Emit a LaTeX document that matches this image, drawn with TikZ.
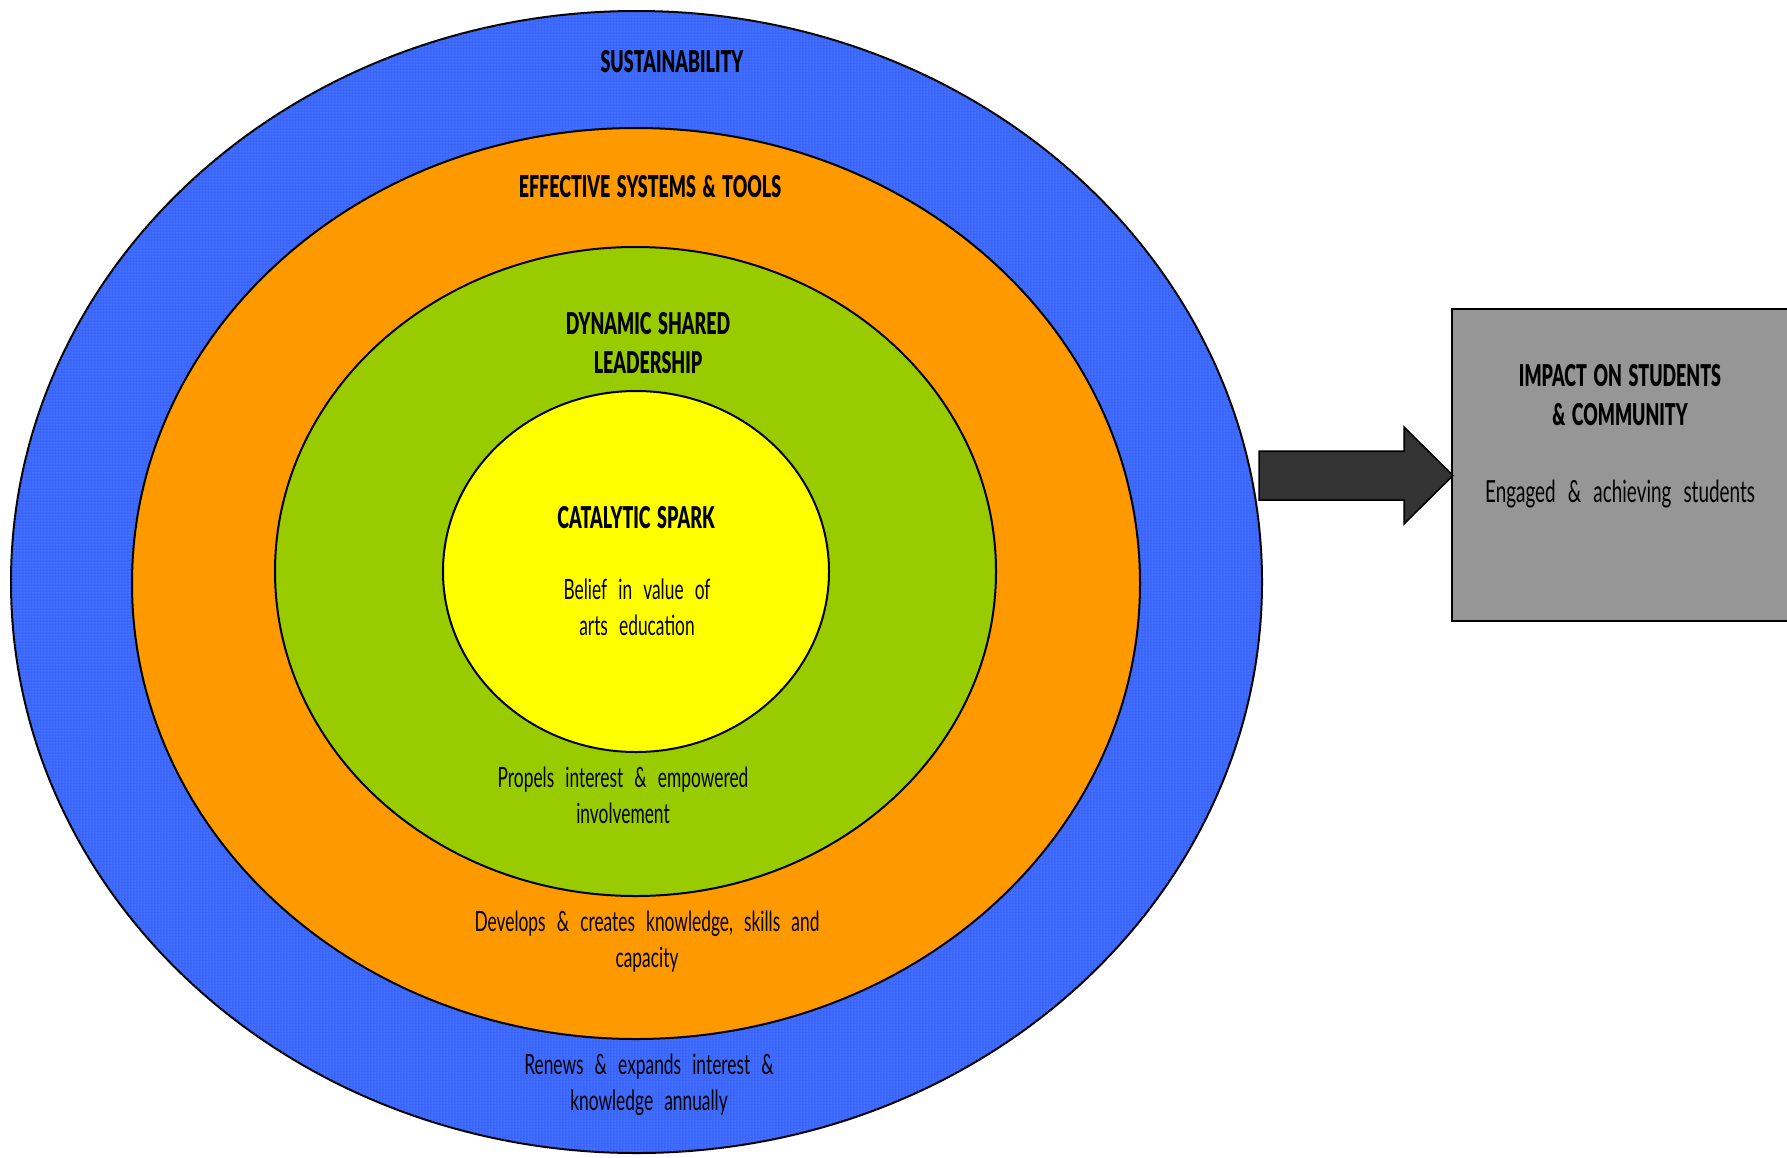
\documentclass[tikz,border=0pt]{standalone}
\usepackage{fontspec}
\setmainfont{Lato}[FakeStretch=0.62, WordSpace=2.5]
\newfontfamily\headfont{Lato}[FakeStretch=0.595, WordSpace=1.6, BoldFont={Lato Black}]
\usetikzlibrary{shapes.geometric,patterns,calc}
\definecolor{ringblue}{RGB}{58,102,250}
\definecolor{ringdot}{RGB}{110,150,255}
\definecolor{ringorange}{RGB}{255,153,0}
\definecolor{ringgreen}{RGB}{153,204,0}
\definecolor{ringyellow}{RGB}{255,255,0}
\definecolor{boxgray}{RGB}{150,150,150}
\definecolor{arrowgray}{RGB}{51,51,51}
\tikzset{
  ring/.style={ellipse, draw=black, line width=2pt, inner sep=0pt},
  head/.style={font=\headfont\bfseries\fontsize{30}{39}\selectfont, align=center, inner sep=0pt},
  body/.style={font=\fontsize{28}{36}\selectfont, align=center, inner sep=0pt},
  boxbody/.style={font=\fontsize{30.5}{38}\selectfont, align=center, inner sep=0pt},
  impactbox/.style={draw=black, line width=2pt, fill=boxgray, inner sep=0pt},
  blockarrow/.style={draw=black, line width=1.5pt, fill=arrowgray, line join=miter}
}
\begin{document}
\begin{tikzpicture}[x=1pt,y=-1pt]
\clip (0,0) rectangle (1787,1157);
\fill[white] (0,0) rectangle (1787,1157);
% rings
\node[ring, fill=ringblue, postaction={pattern=dots, pattern color=ringdot}, minimum width=1251pt, minimum height=1142pt] (sust) at (636.5,582) {};
\node[ring, fill=ringorange, minimum width=1008pt, minimum height=911pt] (eff) at (636,583.5) {};
\node[ring, fill=ringgreen, minimum width=721pt, minimum height=649pt] (dyn) at (635.5,571.5) {};
\node[ring, fill=ringyellow, minimum width=386pt, minimum height=361pt] (spark) at (636,571.5) {};
% ring texts
\node[head, anchor=base] (tsust) at (672,72) {SUSTAINABILITY};
\node[head, anchor=base] (teff) at (650,197) {EFFECTIVE SYSTEMS \& TOOLS};
\node[head] (tdyn) at (648,342.7) {DYNAMIC SHARED\\LEADERSHIP};
\node[head, anchor=base] (tspark) at (636,528) {CATALYTIC SPARK};
\node[body] (tbelief) at (637,607.5) {Belief in value of\\arts education};
\node[body] (tpropel) at (623,795) {Propels interest \& empowered\\involvement};
\node[body] (tdevelop) at (647,942) {Develops \& creates knowledge, skills and\\capacity};
\node[body] (trenew) at (649,1085) {Renews \& expands interest \&\\knowledge annually};
% impact box
\node[impactbox, anchor=north west, minimum width=400pt, minimum height=312pt] (impact) at (1451,308) {};
\node[head] (timpact) at (1620,394.75) {IMPACT ON STUDENTS\\\& COMMUNITY};
\node[boxbody, anchor=base] (tengaged) at (1620,502) {Engaged \& achieving students};
% block arrow
\coordinate (atail) at (1259,475.5);
\coordinate (atip) at (1453,475.5);
\draw[blockarrow] ($(atail)+(0,-24.5)$) -- ($(atip)+(-49,-24.5)$) -- ($(atip)+(-49,-48.5)$) -- (atip)
  -- ($(atip)+(-49,48.5)$) -- ($(atip)+(-49,24.5)$) -- ($(atail)+(0,24.5)$) -- cycle;
\end{tikzpicture}
\end{document}
